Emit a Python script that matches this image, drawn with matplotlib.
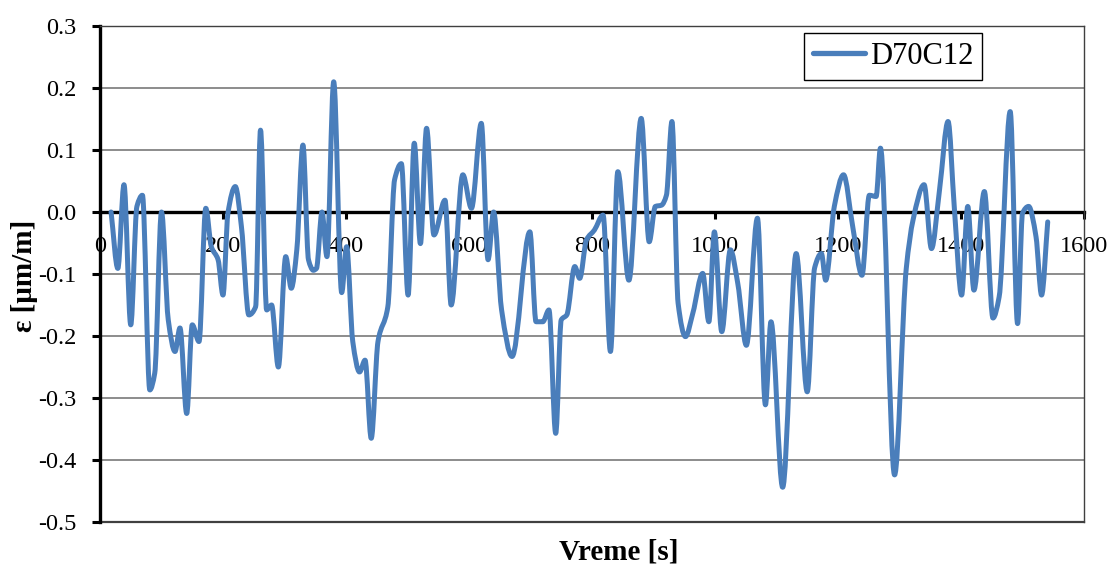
import numpy as np
import matplotlib
matplotlib.use('Agg')
import matplotlib.pyplot as plt
from matplotlib.path import Path
from matplotlib.patches import PathPatch
from matplotlib.lines import Line2D

# --- data ---
time_s = [18, 29, 39, 50, 60, 69, 81, 89, 100, 111, 122, 130, 141, 150, 161,
          172, 181, 192, 200, 208, 220, 230, 242, 253, 261, 271, 279, 290, 302,
          311, 320, 330, 339, 347, 352, 361, 369, 380, 393, 401, 411, 422, 431,
          441, 452, 468, 479, 490, 501, 511, 521, 531, 543, 561, 571, 590, 604,
          620, 631, 640, 653, 670, 699, 709, 720, 730, 741, 750, 759, 772, 780,
          791, 804, 818, 830, 842, 860, 880, 893, 903, 913, 921, 930, 940, 952,
          964, 980, 990, 999, 1011, 1025, 1037, 1051, 1069, 1082, 1091, 1110,
          1132, 1150, 1162, 1173, 1180, 1194, 1209, 1224, 1239, 1251, 1262,
          1269, 1292, 1311, 1322, 1340, 1352, 1365, 1379, 1389, 1401, 1411,
          1421, 1438, 1452, 1462, 1480, 1492, 1500, 1510, 1522, 1531, 1541]
strain = [0.0, -0.091, 0.044, -0.182, 0.009, 0.027, -0.287, -0.26, 0.0, -0.174,
          -0.225, -0.187, -0.325, -0.182, -0.209, 0.006, -0.056, -0.077, -0.134,
          -0.002, 0.041, -0.024, -0.166, -0.153, 0.132, -0.158, -0.150, -0.250,
          -0.072, -0.123, -0.061, 0.108, -0.077, -0.094, -0.091, 0.0, -0.072,
          0.210, -0.130, -0.056, -0.209, -0.258, -0.239, -0.365, -0.209, -0.153,
          0.052, 0.078, -0.134, 0.111, -0.051, 0.135, -0.037, 0.019, -0.150,
          0.060, 0.006, 0.143, -0.077, 0.0, -0.158, -0.233, -0.032, -0.177,
          -0.177, -0.158, -0.357, -0.174, -0.166, -0.088, -0.107, -0.045, -0.029,
          -0.005, -0.225, 0.065, -0.110, 0.151, -0.048, 0.009, 0.011, 0.027,
          0.146, -0.147, -0.201, -0.163, -0.099, -0.177, -0.032, -0.193, -0.061,
          -0.115, -0.215, -0.010, -0.311, -0.177, -0.444, -0.067, -0.290, -0.090,
          -0.067, -0.110, 0.009, 0.060, -0.024, -0.102, 0.027, 0.025, 0.103,
          -0.424, -0.091, -0.013, 0.044, -0.059, 0.035, 0.146, 0.009, -0.134,
          0.009, -0.126, 0.033, -0.171, -0.137, 0.162, -0.180, -0.002, 0.009,
          -0.040, -0.134, -0.016]
series_name = 'D70C12'

x_ticks = [0, 200, 400, 600, 800, 1000, 1200, 1400, 1600]
y_ticks = [0.3, 0.2, 0.1, 0.0, -0.1, -0.2, -0.3, -0.4, -0.5]

line_color = '#4a7ebb'
serif = ['Liberation Serif', 'DejaVu Serif']
plt.rcParams['font.family'] = serif


# --- smoothed line (cubic Bezier through the points, no overshoot at peaks) ---
def smooth_path(xs, ys):
    x = np.asarray(xs, float)
    y = np.asarray(ys, float)
    h = np.diff(x)
    s = np.diff(y) / h
    d = np.zeros_like(y)
    for i in range(1, len(y) - 1):
        if s[i - 1] * s[i] > 0:
            w1 = 2 * h[i] + h[i - 1]
            w2 = h[i] + 2 * h[i - 1]
            d[i] = (w1 + w2) / (w1 / s[i - 1] + w2 / s[i])
    d[0], d[-1] = s[0], s[-1]
    verts = [(x[0], y[0])]
    codes = [Path.MOVETO]
    for i in range(len(x) - 1):
        k = h[i] / 3.0
        verts += [(x[i] + k, y[i] + d[i] * k),
                  (x[i + 1] - k, y[i + 1] - d[i + 1] * k),
                  (x[i + 1], y[i + 1])]
        codes += [Path.CURVE4] * 3
    return Path(verts, codes)


fig = plt.figure(figsize=(11.09, 5.68), dpi=100)
ax = fig.add_axes([100 / 1109, 1 - 522 / 568, 984 / 1109, 496 / 568])

ax.set_xlim(0, 1600)
ax.set_ylim(-0.5, 0.3)
ax.set_xticks(x_ticks)
ax.set_yticks(y_ticks)
ax.set_yticklabels([f'{v:.1f}' for v in y_ticks])
ax.yaxis.grid(True, color='#8c8c8c', lw=1.4)
ax.set_axisbelow(True)

patch = PathPatch(smooth_path(time_s, strain), facecolor='none',
                  edgecolor=line_color, lw=3.6, capstyle='round',
                  joinstyle='round', zorder=3)
ax.add_patch(patch)

# axes: x axis on zero line, border around plot area
ax.spines['bottom'].set_position(('data', 0))
ax.spines['bottom'].set_linewidth(2.4)
ax.spines['bottom'].set_zorder(2)
ax.spines['left'].set_linewidth(2.4)
for s in ['top', 'right']:
    ax.spines[s].set_color('#404040')
    ax.spines[s].set_linewidth(1.0)
ax.axhline(-0.5, color='#404040', lw=1.6, zorder=2, clip_on=False)

ax.tick_params(axis='y', direction='out', length=6, width=2.2, pad=11,
               labelsize=17.5)
ax.tick_params(axis='x', direction='out', length=5, width=2.2, pad=12,
               labelsize=17.5)

handle = Line2D([], [], color=line_color, lw=3.8, solid_capstyle='round')
leg = ax.legend([handle], [series_name], loc='upper left',
                bbox_to_anchor=(804 / 1109, 1 - 33 / 568),
                bbox_transform=fig.transFigure, borderaxespad=0,
                fancybox=False, framealpha=1, edgecolor='black',
                fontsize=22, handlelength=1.7, handletextpad=0.15,
                borderpad=0.3)
leg.get_frame().set_linewidth(1.0)

fig.text(619 / 1109, 1 - 552 / 568, 'Vreme [s]', ha='center', va='center',
         fontsize=21, fontweight='bold')
fig.text(25 / 1109, 1 - 276 / 568, 'ε [μm/m]', ha='center', va='center',
         rotation=90, fontsize=21, fontweight='bold')

fig.savefig('out.png', dpi=100)
